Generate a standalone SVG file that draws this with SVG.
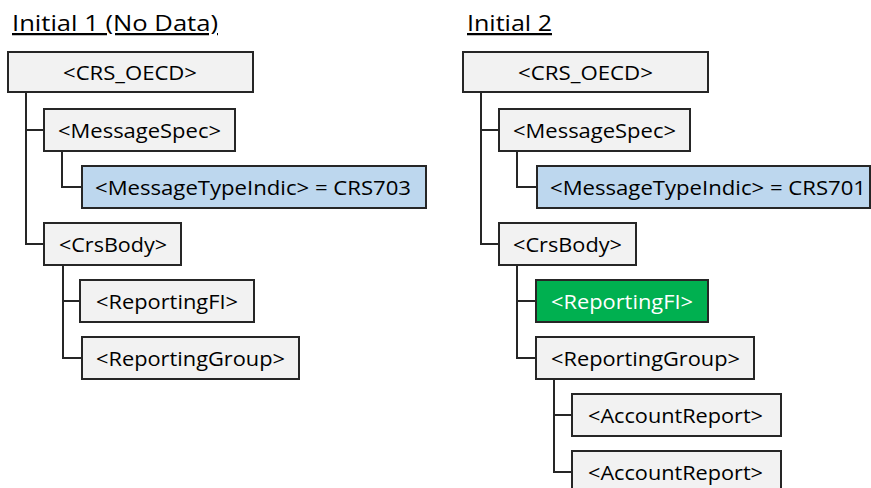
<svg xmlns="http://www.w3.org/2000/svg" width="871" height="488" viewBox="0 0 871 488">
<style>
.box{fill:#F2F2F2;stroke:#262626;stroke-width:2}
.blue{fill:#BDD7EE;stroke:#262626;stroke-width:2}
.green{fill:#00B050;stroke:#262626;stroke-width:2}
.t{font-family:"Open Sans","Liberation Sans",sans-serif;font-size:19.5px;fill:#000}
.tw{font-family:"Open Sans","Liberation Sans",sans-serif;font-size:19.5px;fill:#FFFFFF}
.title{font-family:"Open Sans","Liberation Sans",sans-serif;font-size:22.5px;fill:#000;text-decoration:underline}
.c{fill:none;stroke:#262626;stroke-width:2}
</style>
<rect width="871" height="488" fill="#FFFFFF"/>
<text class="title" x="12" y="31" textLength="206" lengthAdjust="spacingAndGlyphs">Initial 1 (No Data)</text>
<text class="title" x="467" y="31" textLength="85" lengthAdjust="spacingAndGlyphs">Initial 2</text>
<g id="connectors">
<path class="c" d="M26,92 V244 H44 M26,130 H44"/>
<path class="c" d="M62,151 V187 H82"/>
<path class="c" d="M63,265 V358 H82 M63,301 H80"/>
<path class="c" d="M481,92 V244 H499 M481,130 H499"/>
<path class="c" d="M517,151 V187 H537"/>
<path class="c" d="M517,265 V358 H536 M517,301 H536"/>
<path class="c" d="M554,379 V472 H572 M554,415 H572"/>
</g>
<g id="l-crs">
<rect class="box" x="8" y="52" width="245" height="40"/>
<text class="t" x="63" y="80" textLength="134" lengthAdjust="spacingAndGlyphs">&lt;CRS_OECD&gt;</text>
</g>
<g id="l-msgspec">
<rect class="box" x="44" y="109" width="191" height="42"/>
<text class="t" x="58" y="138" textLength="163" lengthAdjust="spacingAndGlyphs">&lt;MessageSpec&gt;</text>
</g>
<g id="l-mti">
<rect class="blue" x="82" y="166" width="344" height="42"/>
<text class="t" x="95" y="195" textLength="316" lengthAdjust="spacingAndGlyphs">&lt;MessageTypeIndic&gt; = CRS703</text>
</g>
<g id="l-body">
<rect class="box" x="44" y="223" width="137" height="42"/>
<text class="t" x="59" y="252" textLength="108" lengthAdjust="spacingAndGlyphs">&lt;CrsBody&gt;</text>
</g>
<g id="l-rfi">
<rect class="box" x="80" y="280" width="174" height="42"/>
<text class="t" x="96" y="309" textLength="142" lengthAdjust="spacingAndGlyphs">&lt;ReportingFI&gt;</text>
</g>
<g id="l-rg">
<rect class="box" x="82" y="337" width="217" height="42"/>
<text class="t" x="96" y="366" textLength="189" lengthAdjust="spacingAndGlyphs">&lt;ReportingGroup&gt;</text>
</g>
<g id="r-crs">
<rect class="box" x="463" y="52" width="245" height="40"/>
<text class="t" x="518" y="80" textLength="135" lengthAdjust="spacingAndGlyphs">&lt;CRS_OECD&gt;</text>
</g>
<g id="r-msgspec">
<rect class="box" x="499" y="109" width="191" height="42"/>
<text class="t" x="513" y="138" textLength="163" lengthAdjust="spacingAndGlyphs">&lt;MessageSpec&gt;</text>
</g>
<g id="r-mti">
<rect class="blue" x="537" y="166" width="333" height="42"/>
<text class="t" x="550" y="195" textLength="316" lengthAdjust="spacingAndGlyphs">&lt;MessageTypeIndic&gt; = CRS701</text>
</g>
<g id="r-body">
<rect class="box" x="499" y="223" width="137" height="42"/>
<text class="t" x="513" y="252" textLength="109" lengthAdjust="spacingAndGlyphs">&lt;CrsBody&gt;</text>
</g>
<g id="r-rfi">
<rect class="green" x="536" y="280" width="172" height="42"/>
<text class="tw" x="551" y="309" textLength="142" lengthAdjust="spacingAndGlyphs">&lt;ReportingFI&gt;</text>
</g>
<g id="r-rg">
<rect class="box" x="536" y="337" width="218" height="42"/>
<text class="t" x="551" y="366" textLength="189" lengthAdjust="spacingAndGlyphs">&lt;ReportingGroup&gt;</text>
</g>
<g id="r-ar1">
<rect class="box" x="572" y="394" width="209" height="42"/>
<text class="t" x="588" y="423" textLength="175" lengthAdjust="spacingAndGlyphs">&lt;AccountReport&gt;</text>
</g>
<g id="r-ar2">
<rect class="box" x="572" y="451" width="209" height="42"/>
<text class="t" x="588" y="480" textLength="175" lengthAdjust="spacingAndGlyphs">&lt;AccountReport&gt;</text>
</g>
</svg>
